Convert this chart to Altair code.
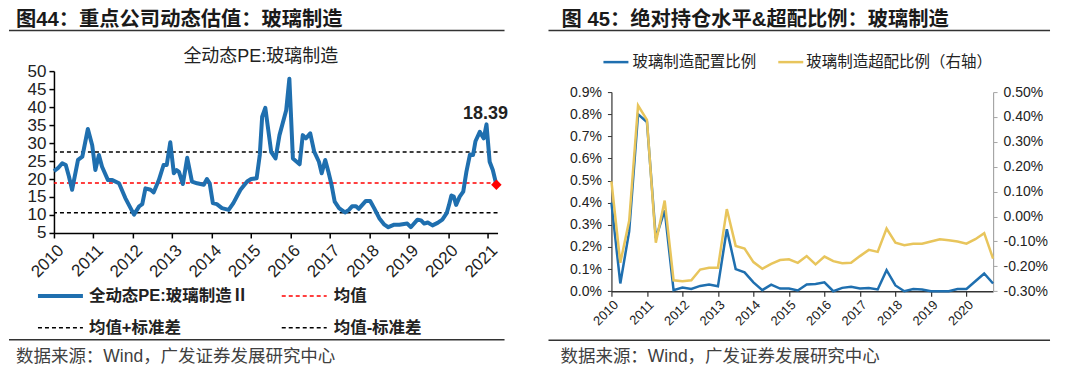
import altair as alt
import pandas as pd

FONT = "Liberation Sans, Noto Sans CJK SC, sans-serif"
BLUE = "#1F6FAF"
YELLOW = "#E8C55C"

# ---------------- Left panel data: 全动态PE ----------------
pe_year = [2010.00, 2010.10, 2010.21, 2010.30, 2010.38, 2010.46, 2010.61, 2010.72, 2010.86, 2010.97,
           2011.05, 2011.14, 2011.22, 2011.37, 2011.48, 2011.65, 2011.81, 2012.03, 2012.16, 2012.24,
           2012.32, 2012.45, 2012.53, 2012.66, 2012.78, 2012.86, 2012.95, 2013.04, 2013.11, 2013.17,
           2013.27, 2013.38, 2013.50, 2013.63, 2013.80, 2013.88, 2013.95, 2014.03, 2014.13, 2014.26,
           2014.43, 2014.55, 2014.73, 2014.90, 2015.00, 2015.14, 2015.22, 2015.28, 2015.36, 2015.51,
           2015.62, 2015.72, 2015.89, 2015.97, 2016.06, 2016.23, 2016.31, 2016.39, 2016.50, 2016.60,
           2016.72, 2016.79, 2016.88, 2016.96, 2017.04, 2017.12, 2017.23, 2017.38, 2017.48, 2017.56,
           2017.66, 2017.73, 2017.91, 2018.02, 2018.12, 2018.25, 2018.38, 2018.48, 2018.63, 2018.76,
           2018.88, 2018.96, 2019.05, 2019.22, 2019.31, 2019.39, 2019.48, 2019.60, 2019.73, 2019.85,
           2019.96, 2020.02, 2020.08, 2020.14, 2020.20, 2020.29, 2020.38, 2020.46, 2020.55, 2020.63,
           2020.69, 2020.80, 2020.90, 2020.97, 2021.05, 2021.13, 2021.22]
pe_value = [22.2, 23.0, 24.4, 23.9, 20.7, 17.0, 25.3, 26.2, 33.9, 29.4,
            22.5, 26.7, 23.4, 19.7, 19.7, 18.8, 14.7, 10.1, 12.4, 13.0,
            17.4, 17.0, 16.3, 19.7, 23.9, 23.9, 30.2, 21.6, 22.5, 22.0,
            18.6, 25.9, 19.3, 18.8, 18.4, 20.0, 18.8, 13.3, 13.0, 11.9,
            11.4, 13.3, 17.0, 19.3, 20.0, 20.2, 26.7, 37.3, 39.8, 27.5,
            25.7, 32.2, 39.1, 47.9, 25.7, 24.1, 32.2, 31.3, 32.7, 27.6,
            24.8, 21.6, 25.3, 22.0, 18.4, 13.7, 11.9, 10.7, 11.4, 12.4,
            12.4, 11.7, 13.9, 13.9, 11.9, 9.1, 7.3, 6.6, 7.3, 7.3,
            7.5, 7.6, 6.6, 8.7, 8.5, 7.6, 7.9, 7.1, 7.8, 8.7,
            10.5, 12.8, 15.4, 15.1, 12.8, 15.1, 16.5, 22.0, 26.8, 26.7,
            30.5, 33.1, 31.3, 35.2, 24.8, 22.5, 18.39]
pe_mean = 18.9
pe_upper = 27.5
pe_lower = 10.6
pe_label = "18.39"
left_y_ticks = [5, 10, 15, 20, 25, 30, 35, 40, 45, 50]
left_x_ticks = list(range(2010, 2022))

# ---------------- Right panel data: 配置比例 / 超配比例 (%) ----------------
quarters = [f"{y}Q{q}" for y in range(2010, 2021) for q in range(1, 5)]
alloc = [0.40, 0.035, 0.27, 0.80, 0.765, 0.24, 0.365, 0.005, 0.017, 0.01,
         0.024, 0.03, 0.022, 0.28, 0.10, 0.085, 0.04, 0.005, 0.03, 0.012,
         0.012, 0.003, 0.03, 0.033, 0.04, 0.0, 0.015, 0.02, 0.012, 0.014,
         0.008, 0.095, 0.026, 0.0, 0.01, 0.008, 0.0, 0.0, 0.0, 0.01,
         0.01, 0.045, 0.08, 0.035]
over = [0.141, -0.186, -0.017, 0.446, 0.388, -0.105, 0.064, -0.256, -0.26, -0.256,
        -0.213, -0.206, -0.206, 0.03, -0.118, -0.129, -0.183, -0.21, -0.19, -0.175,
        -0.172, -0.186, -0.159, -0.192, -0.161, -0.179, -0.188, -0.186, -0.159, -0.134,
        -0.142, -0.048, -0.105, -0.115, -0.109, -0.109, -0.10, -0.091, -0.095, -0.10,
        -0.109, -0.091, -0.067, -0.169]
right_year_ticks = list(range(2010, 2021))
left_pct_ticks = [0.0, 0.1, 0.2, 0.3, 0.4, 0.5, 0.6, 0.7, 0.8, 0.9]
right_pct_ticks = [-0.3, -0.2, -0.1, 0.0, 0.1, 0.2, 0.3, 0.4, 0.5]

one = pd.DataFrame({"k": [0]})


def txt(s, x, y, size, weight="normal", align="left", baseline="middle", color="#222222"):
    return alt.Chart(one).mark_text(
        text=s, font=FONT, fontSize=size, fontWeight=weight, align=align,
        baseline=baseline, color=color
    ).encode(x=alt.value(x), y=alt.value(y))


def hline(x1, x2, y, color, width, dash=None):
    kw = dict(color=color, strokeWidth=width)
    if dash:
        kw["strokeDash"] = dash
    return alt.Chart(one).mark_rule(**kw).encode(
        x=alt.value(x1), x2=alt.value(x2), y=alt.value(y))


def frame(x1, x2, y1, y2):
    return alt.Chart(one).mark_rect(fill="white", opacity=0).encode(
        x=alt.value(x1), x2=alt.value(x2), y=alt.value(y1), y2=alt.value(y2))


TOP = 70.7  # page y of both panels' view origin (hconcat aligns them)

# ---------------- Left panel ----------------
LW, LH = 444, 162
ox, oy = 53, TOP

pe_df = pd.DataFrame({"year": pe_year, "pe": pe_value})
last_df = pe_df.tail(1)

xs_l = alt.Scale(domain=[2010, 2021.25], nice=False, zero=False)
ys_l = alt.Scale(domain=[5, 50], nice=False, zero=False)
xax_l = alt.Axis(values=left_x_ticks, format="d", labelAngle=-45, labelFont=FONT, labelFontSize=17,
                 labelColor="#222222", labelFlush=False, labelOverlap=False, domainColor="black",
                 domainWidth=1.5, tickColor="black", tickWidth=1.5, tickSize=5, labelPadding=4,
                 labelOffset=1, grid=False, title=None)
yax_l = alt.Axis(values=left_y_ticks, labelFont=FONT, labelFontSize=17, labelColor="#222222",
                 labelFlush=False, labelOverlap=False, domainColor="black", domainWidth=1.5,
                 tickColor="black", tickWidth=1.5, tickSize=5, labelPadding=3, grid=False, title=None)

pe_line = alt.Chart(pe_df).mark_line(color=BLUE, strokeWidth=4, strokeJoin="round").encode(
    x=alt.X("year:Q", scale=xs_l, axis=xax_l),
    y=alt.Y("pe:Q", scale=ys_l, axis=yax_l),
)
ref_df = pd.DataFrame({"v": [pe_upper, pe_lower]})
std_rules = alt.Chart(ref_df).mark_rule(color="black", strokeWidth=1.5, strokeDash=[4, 3]).encode(
    y=alt.Y("v:Q", scale=ys_l, axis=yax_l))
mean_rule = alt.Chart(pd.DataFrame({"v": [pe_mean]})).mark_rule(
    color="#FF0000", strokeWidth=1.5, strokeDash=[4, 3]).encode(
    y=alt.Y("v:Q", scale=ys_l, axis=yax_l))
diamond = alt.Chart(last_df).mark_point(shape="diamond", filled=True, color="#FF0000",
                                        size=110, opacity=1).encode(
    x=alt.X("year:Q", scale=xs_l, axis=xax_l),
    y=alt.Y("pe:Q", scale=ys_l, axis=yax_l))

left = alt.layer(
    frame(8 - ox, 540 - ox, 8 - oy, 364 - oy),
    std_rules, mean_rule, pe_line, diamond,
    txt("图44：重点公司动态估值：玻璃制造", 15 - ox, 26 - oy, 20.3, "bold", baseline="alphabetic", color="#1a1a1a"),
    hline(8 - ox, 504 - ox, 30 - oy, "#333333", 1.5),
    txt("全动态PE:玻璃制造", 260 - ox, 57 - oy, 18, align="center"),
    txt(pe_label, 485 - ox, 114 - oy, 18, "bold", align="center"),
    hline(37 - ox, 82 - ox, 295.7 - oy, BLUE, 4),
    txt("全动态PE:玻璃制造Ⅱ", 88 - ox, 295.7 - oy, 16.5, "bold"),
    hline(281 - ox, 326 - ox, 295.7 - oy, "#FF0000", 1.5, [4, 3]),
    txt("均值", 333 - ox, 295.7 - oy, 16.5, "bold"),
    hline(37 - ox, 82 - ox, 327.7 - oy, "black", 1.5, [4, 3]),
    txt("均值+标准差", 88 - ox, 327.7 - oy, 16.5, "bold"),
    hline(281 - ox, 326 - ox, 327.7 - oy, "black", 1.5, [4, 3]),
    txt("均值-标准差", 333 - ox, 327.7 - oy, 16.5, "bold"),
    hline(8 - ox, 504 - ox, 339.5 - oy, "#333333", 1.5),
    txt("数据来源：Wind，广发证券发展研究中心", 15 - ox, 357 - oy, 17.5, color="#404040"),
).properties(width=LW, height=LH)

# ---------------- Right panel ----------------
rx, ry = 611, TOP
RW = 382
RH = 291 - TOP           # view height; the y scales use only its lower part
R_TOP = 91.7 - TOP        # pixel offset of the 0.9% / 0.50% top inside the view

r_df = pd.DataFrame({"i": list(range(len(quarters))), "quarter": quarters, "alloc": alloc, "over": over})
xs_r = alt.Scale(domain=[0, len(quarters) - 1], nice=False, zero=False)
xax_r = alt.Axis(values=[(y - 2010) * 4 for y in right_year_ticks],
                 labelExpr="format(2010 + datum.value / 4, 'd')", labelAngle=-45, labelFont=FONT,
                 labelFontSize=13, labelColor="#222222", labelFlush=False, labelOverlap=False,
                 domainColor="#333333", domainWidth=1.5, tickColor="#333333", tickWidth=1.2,
                 tickSize=5, labelPadding=2, grid=False, title=None)
yax_rl = alt.Axis(values=left_pct_ticks, labelExpr="format(datum.value, '.1f') + '%'", labelFont=FONT,
                  labelFontSize=14, labelColor="#222222", labelFlush=False, labelOverlap=False,
                  domainColor="#333333", domainWidth=1.2, tickColor="#333333", tickSize=4,
                  labelPadding=6, grid=False, title=None)
yax_rr = alt.Axis(orient="right", values=right_pct_ticks,
                  labelExpr="replace(format(datum.value, '.2f'), '\u2212', '-') + '%'", labelFont=FONT,
                  labelFontSize=14, labelColor="#222222", labelFlush=False, labelOverlap=False,
                  domainColor="#A6A6A6", domainWidth=1.2, tickColor="#A6A6A6", tickSize=4,
                  labelPadding=6, grid=False, title=None)

alloc_line = alt.Chart(r_df).mark_line(color=BLUE, strokeWidth=2.5).encode(
    x=alt.X("i:Q", scale=xs_r, axis=xax_r),
    y=alt.Y("alloc:Q", scale=alt.Scale(domain=[0, 0.9], range=[RH, R_TOP], nice=False, zero=False),
            axis=yax_rl))
over_line = alt.Chart(r_df).mark_line(color=YELLOW, strokeWidth=2.5).encode(
    x=alt.X("i:Q", scale=xs_r, axis=xax_r),
    y=alt.Y("over:Q", scale=alt.Scale(domain=[-0.3, 0.5], range=[RH, R_TOP], nice=False, zero=False),
            axis=yax_rr))

right = alt.layer(
    frame(540 - rx, 1072 - rx, 8 - ry, 364 - ry),
    alloc_line, over_line,
    txt("图 45：绝对持仓水平&超配比例：玻璃制造", 561 - rx, 26 - ry, 20.3, "bold", baseline="alphabetic", color="#1a1a1a"),
    hline(548 - rx, 1050 - rx, 30 - ry, "#333333", 1.5),
    hline(603 - rx, 628 - rx, 61.7 - ry, BLUE, 2.5),
    txt("玻璃制造配置比例", 632 - rx, 61.7 - ry, 15.5),
    hline(778 - rx, 803 - rx, 61.7 - ry, YELLOW, 2.5),
    txt("玻璃制造超配比例（右轴）", 806 - rx, 61.7 - ry, 15.5),
    hline(548 - rx, 1050 - rx, 340 - ry, "#333333", 1.5),
    txt("数据来源：Wind，广发证券发展研究中心", 560 - rx, 357 - ry, 17.5, color="#404040"),
).resolve_scale(y="independent").properties(width=RW, height=RH)

chart = alt.hconcat(left, right, spacing=0).properties(padding=0).configure_view(stroke=None)

chart.save("out.html", embed_options={"renderer": "svg", "actions": False})
